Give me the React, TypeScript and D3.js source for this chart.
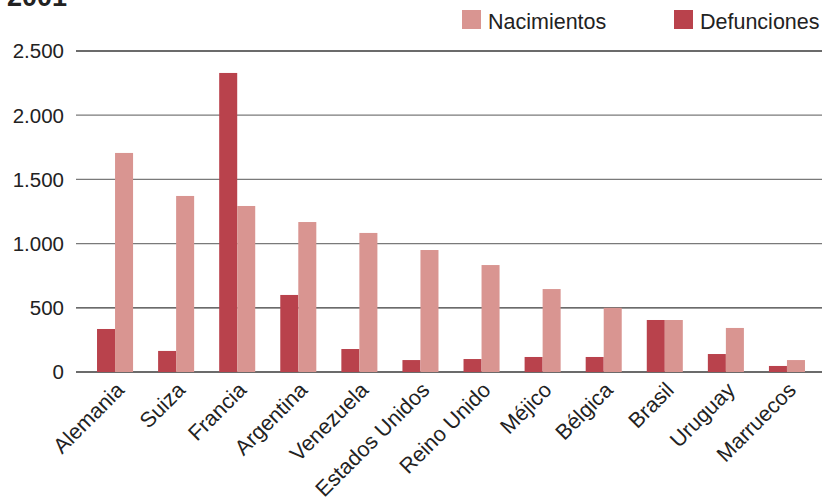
import { useEffect, useRef } from 'react';
import * as d3 from 'd3';

const countries = ['Alemania', 'Suiza', 'Francia', 'Argentina', 'Venezuela', 'Estados Unidos', 'Reino Unido', 'Méjico', 'Bélgica', 'Brasil', 'Uruguay', 'Marruecos'];
const defunciones = [335, 164, 2329, 600, 179, 93, 101, 117, 117, 405, 140, 47];
const nacimientos = [1706, 1371, 1293, 1168, 1083, 950, 833, 646, 500, 405, 343, 93];
const yTicks = [0, 500, 1000, 1500, 2000, 2500];
const seriesNames = ['Nacimientos', 'Defunciones'];

const W = 826;
const H = 499;
const COLOR_DEF = '#b9424c';
const COLOR_NAC = '#d99591';
const FONT = '"Liberation Sans", Arial, sans-serif';

export default function App() {
  const svgRef = useRef<SVGSVGElement>(null);

  useEffect(() => {
    if (!svgRef.current) return;
    const svg = d3.select(svgRef.current);
    svg.selectAll('*').remove();

    const gridLeft = 76;
    const gridRight = 822;

    const x = d3.scaleBand<string>()
      .domain(countries)
      .range([84.5, 817.5])
      .paddingInner(0.41)
      .paddingOuter(0.205);

    const y = d3.scaleLinear()
      .domain([0, 2500])
      .range([372, 51]);

    const fmt = (v: number) => d3.format(',')(v).replace(/,/g, '.');

    // title (cut off at top, as in the original)
    svg.append('text')
      .attr('x', 7)
      .attr('y', 6)
      .attr('font-family', FONT)
      .attr('font-weight', 'bold')
      .attr('font-size', 27)
      .attr('fill', '#222')
      .text('2001');

    // grid
    svg.append('g')
      .selectAll('line')
      .data(yTicks)
      .enter()
      .append('line')
      .attr('x1', gridLeft)
      .attr('x2', gridRight)
      .attr('y1', d => y(d))
      .attr('y2', d => y(d))
      .attr('stroke', d => (d === 1500 || d === 2000 || d === 1000) ? '#7a7a7a' : '#3a3a3a')
      .attr('stroke-width', 1.3);

    svg.append('g')
      .selectAll('text')
      .data(yTicks)
      .enter()
      .append('text')
      .attr('x', 64)
      .attr('y', d => y(d))
      .attr('dy', '0.36em')
      .attr('text-anchor', 'end')
      .attr('font-family', FONT)
      .attr('font-size', 20.5)
      .attr('fill', '#222')
      .text(d => fmt(d));

    const bw = x.bandwidth() / 2;

    const groups = svg.append('g')
      .selectAll('g')
      .data(countries)
      .enter()
      .append('g')
      .attr('transform', d => `translate(${x(d)},0)`);

    groups.append('rect')
      .attr('x', 0)
      .attr('width', bw)
      .attr('y', (_, i) => y(defunciones[i]))
      .attr('height', (_, i) => y(0) - y(defunciones[i]))
      .attr('fill', COLOR_DEF);

    groups.append('rect')
      .attr('x', bw)
      .attr('width', bw)
      .attr('y', (_, i) => y(nacimientos[i]))
      .attr('height', (_, i) => y(0) - y(nacimientos[i]))
      .attr('fill', COLOR_NAC);

    // x labels
    svg.append('g')
      .selectAll('text')
      .data(countries)
      .enter()
      .append('text')
      .attr('transform', d => `translate(${(x(d) ?? 0) + x.bandwidth() / 2 - 1},${380}) rotate(-45)`)
      .attr('text-anchor', 'end')
      .attr('dy', '0.75em')
      .attr('font-family', FONT)
      .attr('font-size', 21.5)
      .attr('fill', '#222')
      .text(d => d);

    // legend
    const legendX = [462, 674];
    const legendColors = [COLOR_NAC, COLOR_DEF];
    seriesNames.forEach((name, i) => {
      svg.append('rect')
        .attr('x', legendX[i])
        .attr('y', 10)
        .attr('width', 19)
        .attr('height', 19)
        .attr('fill', legendColors[i]);
      svg.append('text')
        .attr('x', legendX[i] + 26)
        .attr('y', 29)
        .attr('font-family', FONT)
        .attr('font-size', 21.5)
        .attr('fill', '#222')
        .text(name);
    });
  }, []);

  return (
    <svg
      ref={svgRef}
      width={W}
      height={H}
      style={{ position: 'absolute', left: 0, top: 0, background: '#fff' }}
    />
  );
}
